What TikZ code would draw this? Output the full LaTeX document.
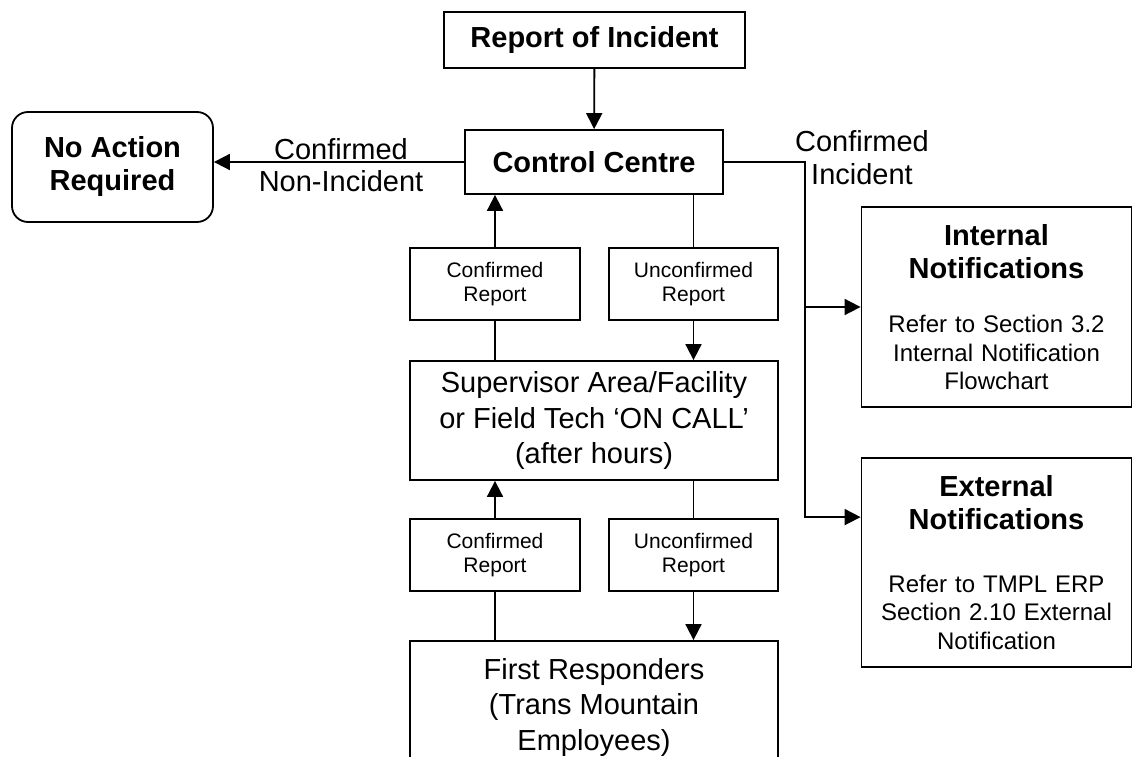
\documentclass[tikz,border=0pt]{standalone}
\usepackage{fontspec}
\setmainfont{Liberation Sans}
\usetikzlibrary{arrows.meta}

\tikzset{
  box/.style={draw, line width=1.8pt, align=center, inner sep=0pt},
  heading/.style={font=\fontsize{29}{33}\selectfont\bfseries},
  plain/.style={font=\fontsize{29}{35.5}\selectfont},
  small/.style={font=\fontsize{21}{24}\selectfont},
  note/.style={font=\fontsize{24}{28.5}\selectfont},
  link/.style={line width=1.8pt, >={Triangle[width=16pt,length=16pt]}},
}

\begin{document}
\begin{tikzpicture}[x=1pt, y=-1pt]

        \clip (0,0) rectangle (1135,757);

        \node[box,heading,minimum width=301pt,minimum height=56pt]  (report)  at (594.5, 40)   {Report of Incident};
        \node[box,heading,minimum width=258pt,minimum height=64pt]  (control) at (594, 162)    {Control Centre};
        \node[box,heading,rounded corners=16pt,minimum width=201pt,minimum height=110pt] (noaction) at (112.5, 167) {No Action\\Required};

        \node[box,small,minimum width=170pt,minimum height=72pt]    (confA)   at (495, 284)    {Confirmed\\Report};
        \node[box,small,minimum width=169pt,minimum height=72pt]    (unconfA) at (693.5, 284)  {Unconfirmed\\Report};
        \node[box,plain,minimum width=368pt,minimum height=119pt]   (super)   at (594, 420.5)  {Supervisor Area/Facility\\or Field Tech `ON CALL'\\(after hours)};
        \node[box,small,minimum width=170pt,minimum height=72pt]    (confB)   at (495, 555)    {Confirmed\\Report};
        \node[box,small,minimum width=169pt,minimum height=72pt]    (unconfB) at (693.5, 555)  {Unconfirmed\\Report};
        \node[box,plain,minimum width=368pt,minimum height=132pt]   (first)   at (594, 707)    {First Responders\\(Trans Mountain\\Employees)};

        \node[box,note,text width=270pt,minimum height=200pt]       (internal) at (996.5, 307)
             {{\fontsize{29}{33}\selectfont\bfseries Internal\\Notifications\par}\vspace{26pt}Refer to Section 3.2\\Internal Notification\\Flowchart};
        \node[box,note,text width=270pt,minimum height=209pt]       (external) at (996.5, 562.5)
             {{\fontsize{29}{33}\selectfont\bfseries External\\Notifications\par}\vspace{34pt}Refer to TMPL ERP\\Section 2.10 External\\Notification};

        \node[plain,align=center,font=\fontsize{29}{32}\selectfont] (nonlbl) at (341, 165)  {Confirmed\\Non-Incident};
        \node[plain,align=center,font=\fontsize{29}{33}\selectfont] (inclbl) at (862, 158)  {Confirmed\\Incident};

        \coordinate (turn) at (805, 162);

        \draw[link,->] (report) -- (control);
        \draw[link,->] (control.west) -- (noaction.east |- control.west);
        \draw[link,->] (control.east) -- (turn) |- (internal.west);
        \draw[link,->] (turn) |- ([yshift=-60pt]external.north west);

        \draw[link,->] (confA.north) -- (confA.north |- control.south);
        \draw[link]    (unconfA.north |- control.south) -- (unconfA.north);
        \draw[link]    (confA.south) -- (confA.south |- super.north);
        \draw[link,->] (unconfA.south) -- (unconfA.south |- super.north);

        \draw[link,->] (confB.north) -- (confB.north |- super.south);
        \draw[link]    (unconfB.north |- super.south) -- (unconfB.north);
        \draw[link]    (confB.south) -- (confB.south |- first.north);
        \draw[link,->] (unconfB.south) -- (unconfB.south |- first.north);

\end{tikzpicture}
\end{document}
